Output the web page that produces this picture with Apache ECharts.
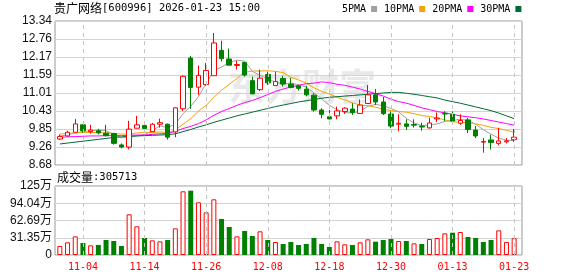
<!DOCTYPE html>
<html><head><meta charset="utf-8">
<script src="https://cdn.jsdelivr.net/npm/echarts@6/dist/echarts.min.js"></script>
<style>html,body{margin:0;padding:0;background:#fff}#c{width:578px;height:276px}</style>
</head><body><div id="c"></div>
<script>
const dates = ['10-30','10-31','11-03','11-04','11-05','11-06','11-07','11-10','11-11','11-12','11-13','11-14','11-17','11-18','11-19','11-20','11-21','11-24','11-25','11-26','11-27','11-28','12-01','12-02','12-03','12-04','12-05','12-08','12-09','12-10','12-11','12-12','12-15','12-16','12-17','12-18','12-19','12-22','12-23','12-24','12-25','12-26','12-29','12-30','12-31','01-05','01-06','01-07','01-08','01-09','01-12','01-13','01-14','01-15','01-16','01-19','01-20','01-21','01-22','01-23'];
const opens = [9.52,9.62,9.74,9.98,9.76,9.79,9.71,9.70,9.33,9.26,9.87,9.96,9.76,10.00,10.00,9.75,10.50,12.14,11.20,11.28,11.57,12.39,12.11,11.90,12.00,11.41,11.12,11.61,11.25,11.48,11.30,11.24,11.13,10.94,10.46,10.24,10.27,10.41,10.49,10.35,10.67,10.95,10.72,10.33,10.00,10.01,9.99,9.94,9.88,10.17,10.35,10.32,10.03,10.14,9.81,9.42,9.49,9.38,9.43,9.50];
const closes = [9.60,9.74,10.01,9.79,9.81,9.72,9.63,9.38,9.26,9.84,9.98,9.86,10.00,10.05,9.58,10.53,11.55,11.19,11.58,11.74,12.63,12.12,11.91,11.93,11.59,10.98,11.49,11.34,11.38,11.30,11.19,11.16,10.95,10.46,10.32,10.17,10.43,10.52,10.38,10.62,10.95,10.72,10.34,9.94,10.03,9.93,9.97,9.91,10.04,10.20,10.33,10.10,10.12,9.83,9.62,9.44,9.41,9.46,9.46,9.58];
const lows = [9.49,9.60,9.74,9.72,9.70,9.67,9.60,9.34,9.22,9.19,9.87,9.77,9.76,9.89,9.50,9.58,10.43,10.50,10.95,11.25,11.57,12.03,11.91,11.77,11.54,10.98,11.07,11.27,11.25,11.22,11.16,11.09,10.90,10.41,10.19,10.16,10.16,10.33,10.30,10.33,10.66,10.62,10.30,9.87,9.77,9.81,9.89,9.79,9.86,10.07,10.10,10.05,9.98,9.71,9.55,9.08,9.18,9.32,9.38,9.43];
const highs = [9.67,9.79,10.17,10.00,9.98,9.85,9.98,9.72,9.38,10.11,10.27,10.08,10.04,10.18,10.02,10.54,11.58,12.21,11.90,11.98,12.95,12.70,12.45,12.05,12.02,11.54,11.76,11.70,11.70,11.57,11.50,11.28,11.24,11.00,10.52,10.46,10.57,10.55,10.68,10.80,11.27,11.14,10.88,10.41,10.32,10.16,10.16,10.05,10.21,10.38,10.42,10.41,10.32,10.20,9.94,9.55,9.66,9.88,9.55,9.85];
const volumes = [164000,230000,339000,218000,176000,182000,273000,254000,164000,739000,521000,309000,266000,248000,273000,484000,1157000,1169000,957000,775000,1012000,654000,509000,339000,436000,345000,430000,273000,236000,200000,236000,182000,200000,309000,200000,145000,248000,194000,182000,230000,285000,242000,273000,291000,254000,254000,212000,200000,291000,309000,394000,405000,418000,327000,309000,236000,273000,448000,236000,305713];
const ma5 = [9.62,9.65,9.72,9.76,9.79,9.81,9.79,9.67,9.56,9.57,9.62,9.66,9.79,9.95,9.89,10.00,10.34,10.58,10.89,11.32,11.74,11.85,12.00,12.07,12.04,11.71,11.58,11.47,11.36,11.30,11.34,11.27,11.20,11.01,10.82,10.61,10.47,10.38,10.36,10.42,10.58,10.64,10.60,10.51,10.40,10.19,10.04,9.96,9.98,10.01,10.09,10.12,10.16,10.12,10.00,9.82,9.68,9.55,9.48,9.47];
const ma10 = [9.68,9.70,9.72,9.73,9.73,9.73,9.72,9.70,9.68,9.68,9.72,9.73,9.73,9.75,9.73,9.81,10.00,10.18,10.42,10.61,10.87,11.10,11.29,11.48,11.68,11.72,11.72,11.73,11.71,11.67,11.52,11.43,11.33,11.18,11.06,10.98,10.87,10.79,10.69,10.62,10.60,10.55,10.49,10.44,10.41,10.39,10.34,10.28,10.25,10.20,10.14,10.08,10.06,10.05,10.01,9.96,9.90,9.86,9.80,9.74];
const ma20 = [9.58,9.59,9.60,9.61,9.62,9.62,9.63,9.63,9.63,9.64,9.65,9.65,9.67,9.69,9.70,9.77,9.86,9.93,10.02,10.14,10.29,10.41,10.51,10.61,10.70,10.77,10.86,10.96,11.06,11.14,11.20,11.26,11.31,11.33,11.37,11.35,11.29,11.26,11.20,11.14,11.06,10.99,10.91,10.81,10.73,10.68,10.61,10.53,10.47,10.41,10.37,10.32,10.27,10.24,10.21,10.17,10.12,10.07,10.02,9.97];
const ma30 = [9.36,9.39,9.42,9.45,9.48,9.51,9.54,9.57,9.59,9.61,9.62,9.63,9.64,9.65,9.66,9.69,9.76,9.83,9.91,9.98,10.06,10.13,10.20,10.27,10.33,10.39,10.45,10.51,10.57,10.62,10.67,10.72,10.76,10.80,10.84,10.87,10.89,10.91,10.93,10.95,10.97,10.99,11.01,11.03,11.03,11.00,10.97,10.93,10.89,10.85,10.78,10.73,10.68,10.62,10.56,10.50,10.44,10.36,10.27,10.18];
const priceTickLabels = ['8.68','9.26','9.85','10.43','11.01','11.59','12.17','12.76','13.34'];
const volTickLabels = ['0','31.35万','62.69万','94.04万','125万'];
const priceMin = 8.68, priceMax = 13.34, volMax = 1253800;
const titleName = '贵广网络', titleCode = '[600996] 2026-01-23 15:00';
const volTitleName = '成交量', volTitleValue = ':305713';

const RED = '#ff0000', GREEN = '#008000';
const MONO = '"DejaVu Sans Mono", monospace';
const CJK = '"Noto Sans CJK SC", sans-serif';
const labelStep = i => (i - 3) % 8 === 0;
const markedDates = dates.filter((d, i) => labelStep(i));

const kData = dates.map((d, i) => [opens[i], closes[i], lows[i], highs[i]]);
const volData = volumes.map((v, i) => {
  const up = i === 0 ? closes[i] >= opens[i] : closes[i] >= closes[i - 1];
  return { value: v, itemStyle: up ? { color: '#fff', borderColor: RED, borderWidth: 1 } : { color: GREEN, borderColor: GREEN, borderWidth: 0 } };
});

const chart = echarts.init(document.getElementById('c'), null, { renderer: 'canvas' });
const frameSplit = { show: true, lineStyle: { color: '#d3d3d3', width: 1, type: 'solid' } };
const vMark = {
  silent: true, symbol: ['none', 'none'], label: { show: false },
  lineStyle: { color: '#c4c4c4', width: 1, type: [4, 4] },
  data: markedDates.map(d => ({ xAxis: d }))
};
const lineS = (name, data, color) => ({
  name, type: 'line', data, xAxisIndex: 1, yAxisIndex: 1, showSymbol: false, symbol: 'none',
  color, lineStyle: { color, width: 1 }, itemStyle: { color }, z: 3, silent: true
});
const richTitle = {
  c: { fontFamily: CJK, fontSize: 12, color: '#000', fontWeight: 'normal' },
  m: { fontFamily: MONO, fontSize: 10.5, color: '#000', fontWeight: 'normal' }
};

chart.setOption({
  animation: false,
  backgroundColor: '#fff',
  title: [
    { text: '{c|' + titleName + '}{m|' + titleCode + '}', left: 54, top: 2, padding: 0,
      textStyle: { fontWeight: 'normal', rich: richTitle } },
    { text: '{c|' + volTitleName + '}{m|' + volTitleValue + '}', left: 57, top: 171, padding: 0,
      textStyle: { fontWeight: 'normal', rich: richTitle } }
  ],
  legend: {
    data: ['5PMA', '10PMA', '20PMA', '30PMA'], left: 342, top: 4, padding: 0,
    itemWidth: 6, itemHeight: 6, itemGap: 7, align: 'right', icon: 'rect', selectedMode: false,
    textStyle: { fontFamily: MONO, fontSize: 10, color: '#000', padding: [0, 0, 0, -2] }
  },
  graphic: [
    { type: 'text', left: 228, top: 68, z: 0, silent: true,
      style: { text: '东方财富', font: 'bold 37px "Noto Sans CJK SC"', fill: '#e9e9e9' } }
  ],
  grid: [
    { left: 55, right: 56, top: 21, height: 144, show: true, borderColor: '#999', borderWidth: 1, backgroundColor: 'transparent' },
    { left: 56, right: 60, top: 21, height: 144 },
    { left: 55, right: 56, top: 186, height: 69, show: true, borderColor: '#999', borderWidth: 1, backgroundColor: 'transparent' },
    { left: 56, right: 60, top: 186, height: 69 }
  ],
  xAxis: [
    { type: 'value', gridIndex: 0, min: 0, max: 1, show: false },
    { type: 'category', gridIndex: 1, data: dates, boundaryGap: true,
      axisLine: { show: false }, axisTick: { show: false }, axisLabel: { show: false }, splitLine: { show: false } },
    { type: 'value', gridIndex: 2, min: 0, max: 1, show: false },
    { type: 'category', gridIndex: 3, data: dates, boundaryGap: true,
      axisLine: { show: false }, axisTick: { show: false }, splitLine: { show: false },
      axisLabel: { show: true, interval: labelStep, color: RED, fontFamily: MONO, fontSize: 10, margin: 7 } }
  ],
  yAxis: [
    { type: 'value', gridIndex: 0, min: 0, max: priceTickLabels.length - 1, interval: 1,
      axisLine: { show: false }, axisTick: { show: false }, splitLine: frameSplit,
      axisLabel: { formatter: v => priceTickLabels[Math.round(v)], color: '#111', fontFamily: 'Liberation Sans', fontSize: 12, margin: 3 } },
    { type: 'value', gridIndex: 1, min: priceMin, max: priceMax, show: false, splitLine: { show: false } },
    { type: 'value', gridIndex: 2, min: 0, max: volTickLabels.length - 1, interval: 1,
      axisLine: { show: false }, axisTick: { show: false }, splitLine: frameSplit,
      axisLabel: { formatter: v => volTickLabels[Math.round(v)], color: '#111', fontFamily: 'Liberation Sans, "Noto Sans CJK SC"', fontSize: 12, margin: 3 } },
    { type: 'value', gridIndex: 3, min: 0, max: volMax, show: false, splitLine: { show: false } }
  ],
  series: [
    { name: 'gridK', type: 'line', xAxisIndex: 1, yAxisIndex: 1, data: closes, showSymbol: false, symbol: 'none',
      lineStyle: { opacity: 0 }, z: 1, silent: true, markLine: vMark },
    { name: 'gridV', type: 'line', xAxisIndex: 3, yAxisIndex: 3, data: volumes, showSymbol: false, symbol: 'none',
      lineStyle: { opacity: 0 }, z: 1, silent: true, markLine: vMark },
    { name: 'K', type: 'candlestick', xAxisIndex: 1, yAxisIndex: 1, data: kData, barWidth: 5, z: 4, silent: true,
      itemStyle: { color: '#fff', color0: GREEN, borderColor: RED, borderColor0: GREEN, borderWidth: 1 } },
    lineS('5PMA', ma5, '#a0a0a0'),
    lineS('10PMA', ma10, '#f5a300'),
    lineS('20PMA', ma20, '#ff00ff'),
    lineS('30PMA', ma30, '#006b33'),
    { name: 'VOL', type: 'bar', xAxisIndex: 3, yAxisIndex: 3, data: volData, barWidth: 5, silent: true, z: 3 }
  ]
});
</script>
</body></html>
